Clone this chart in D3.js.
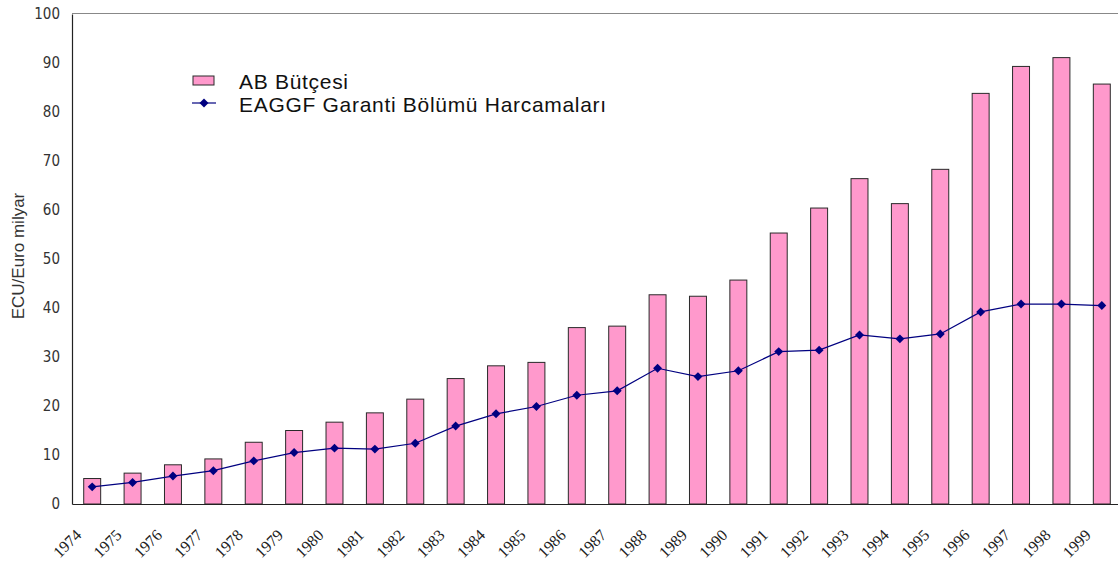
<!DOCTYPE html>
<html>
<head>
<meta charset="utf-8">
<script src="https://cdn.jsdelivr.net/npm/d3@7"></script>
<style>
  body { margin: 0; background: #fff; }
  svg { display: block; }
</style>
</head>
<body>
<svg id="chart" width="1118" height="562"></svg>
<script>
// yearly values, billions ECU/Euro
const years = ["1974","1975","1976","1977","1978","1979","1980","1981","1982","1983","1984","1985","1986",
               "1987","1988","1989","1990","1991","1992","1993","1994","1995","1996","1997","1998","1999"];
const budget = [5.2, 6.3, 8.0, 9.2, 12.6, 15.0, 16.7, 18.6, 21.4, 25.6, 28.2, 28.9, 36.0,
                36.3, 42.7, 42.4, 45.7, 55.3, 60.4, 66.4, 61.3, 68.3, 83.8, 89.3, 91.1, 85.7];
const eaggf = [3.5, 4.4, 5.7, 6.8, 8.8, 10.5, 11.4, 11.2, 12.4, 15.9, 18.4, 19.9, 22.2,
               23.1, 27.7, 26.0, 27.2, 31.1, 31.4, 34.5, 33.7, 34.7, 39.2, 40.8, 40.8, 40.5];
const yTicks = [0, 10, 20, 30, 40, 50, 60, 70, 80, 90, 100];
const legendLabels = ["AB Bütçesi", "EAGGF Garanti Bölümü Harcamaları"];

const svg = d3.select("#chart");
const W = 1118;
const margin = { top: 14, left: 72, bottom: 504, right: 1122 };

const x = d3.scaleBand().domain(years).range([margin.left, margin.right])
    .paddingInner(0.58).paddingOuter(0.29);
const y = d3.scaleLinear().domain([0, 100]).range([margin.bottom, margin.top]);

const pink = "#ff99cc", navy = "#000080";

// top frame line
svg.append("line")
    .attr("x1", margin.left).attr("x2", W)
    .attr("y1", margin.top - 0.5).attr("y2", margin.top - 0.5)
    .attr("stroke", "#888").attr("stroke-width", 1);

// bars
svg.append("g").selectAll("rect")
    .data(years)
    .enter().append("rect")
    .attr("x", d => x(d))
    .attr("y", (d, i) => y(budget[i]))
    .attr("width", x.bandwidth())
    .attr("height", (d, i) => y(0) - y(budget[i]))
    .attr("fill", pink)
    .attr("stroke", "#2a2a2a")
    .attr("stroke-width", 1);

// y axis
const yAxis = svg.append("g")
    .attr("transform", `translate(${margin.left},0)`)
    .call(d3.axisLeft(y).tickValues(yTicks).tickSize(0).tickPadding(12));
yAxis.select(".domain").attr("stroke", "#222").attr("stroke-width", 1.2);
yAxis.selectAll("text")
    .style("font-family", "'DejaVu Sans Condensed', 'DejaVu Sans', sans-serif")
    .style("font-stretch", "condensed")
    .style("font-size", "15px")
    .attr("fill", "#333");

// x axis, labels sit left of the bars like the original
const xAxis = svg.append("g")
    .attr("transform", `translate(0,${margin.bottom})`)
    .call(d3.axisBottom(x).tickSize(0));
xAxis.select(".domain").attr("stroke", "#222").attr("stroke-width", 1.2);
xAxis.selectAll("text")
    .style("font-family", "'Liberation Serif', serif")
    .style("font-size", "16px")
    .attr("fill", "#222")
    .attr("text-anchor", "end")
    .attr("dy", 0)
    .attr("transform", "translate(-12,30) rotate(-45)");

// line series
const line = d3.line()
    .x((d, i) => x(years[i]) + x.bandwidth() / 2)
    .y(d => y(d));

svg.append("path")
    .datum(eaggf)
    .attr("fill", "none")
    .attr("stroke", navy)
    .attr("stroke-width", 1.2)
    .attr("d", line);

const diamond = d3.symbol(d3.symbolSquare, 40);
svg.append("g").selectAll("path")
    .data(eaggf)
    .enter().append("path")
    .attr("d", diamond)
    .attr("fill", navy)
    .attr("transform", (d, i) => `translate(${x(years[i]) + x.bandwidth() / 2},${y(d)}) rotate(45)`);

// y axis title
svg.append("text")
    .attr("transform", "translate(24,256) rotate(-90)")
    .attr("text-anchor", "middle")
    .style("font-family", "'Liberation Sans', Arial, sans-serif")
    .style("font-size", "17px")
    .attr("fill", "#333")
    .text("ECU/Euro milyar");

// legend
const legend = svg.append("g");
legend.append("rect")
    .attr("x", 193).attr("y", 76)
    .attr("width", 21).attr("height", 9)
    .attr("fill", pink).attr("stroke", "#2a2a2a");
legend.append("line")
    .attr("x1", 192).attr("x2", 216)
    .attr("y1", 103).attr("y2", 103)
    .attr("stroke", navy).attr("stroke-width", 1.2);
legend.append("path")
    .attr("d", diamond)
    .attr("fill", navy)
    .attr("transform", "translate(204,103) rotate(45)");
legend.selectAll("text")
    .data(legendLabels)
    .enter().append("text")
    .attr("x", 239)
    .attr("y", (d, i) => 89 + i * 23)
    .style("font-family", "'Liberation Sans', Arial, sans-serif")
    .style("font-size", "21px")
    .style("letter-spacing", "0.7px")
    .attr("fill", "#111")
    .text(d => d);
</script>
</body>
</html>
